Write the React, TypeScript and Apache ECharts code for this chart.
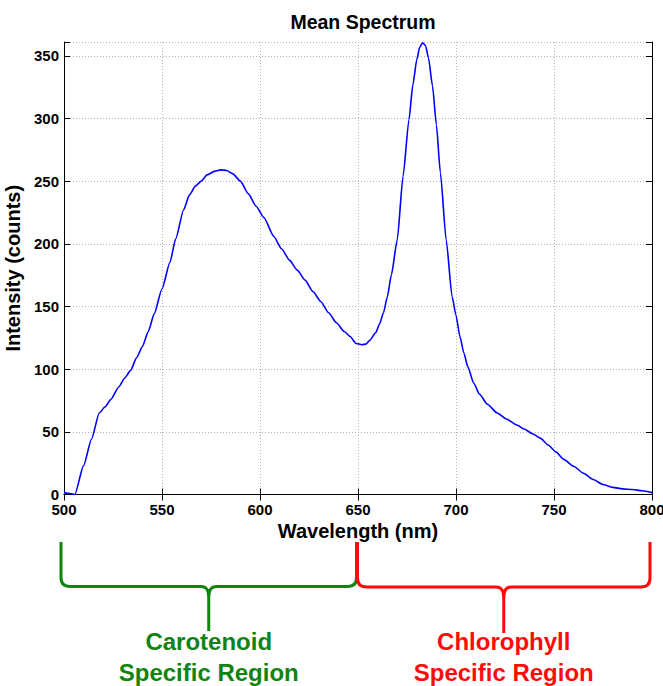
import React, { useEffect, useRef } from "react";
import * as echarts from "echarts";

// ---- data ----
const wavelengths = [
  500, 502, 504, 505.5, 510, 514, 518, 521, 524, 528, 531, 534, 537, 540, 543, 546, 550, 554, 557, 561,
  564, 567, 570, 573, 577, 580, 583, 586, 590, 594, 598, 602, 607, 611, 615, 619, 623, 627, 631, 635,
  639, 643, 646, 649, 652, 654, 656, 659, 661, 663, 665, 667, 670, 673, 676, 678, 680, 681.5, 683, 684.5,
  686, 688, 690, 692, 695, 698, 700, 702, 704, 706, 709, 712, 716, 721, 726, 731, 735, 739, 743, 747,
  751, 755, 760, 765, 770, 775, 780, 785, 790, 795, 800,
];
const intensities = [
  1.5, 1, 0.5, 0, 23, 44, 65, 70, 76, 86, 93, 99, 109, 118, 130, 144, 164, 185, 204, 227,
  239, 246, 250, 255, 258, 259, 258.5, 256, 250, 240, 230, 221, 206, 196, 187, 179, 171, 162, 154, 145,
  137, 130, 126, 120.5, 119.5, 120, 123, 129, 136, 145, 158, 175, 203, 254, 299, 327, 347, 357, 360.4, 358,
  348, 326, 295, 257, 203, 158, 143, 126, 113, 102, 89, 80, 72, 65, 60, 55.5, 52, 48.5, 45, 39.5,
  34, 28, 22.5, 17, 12, 8, 5.7, 4.5, 4, 3, 1.5,
];

const xRange = [500, 800];
const xStep = 50;
const yRange = [0, 361];
const yStep = 50;

const chartTitle = "Mean Spectrum";
const xName = "Wavelength (nm)";
const yName = "Intensity (counts)";

const regionBounds = [
  [500, 650],
  [650, 800],
];
const regionLabels = [
  ["Carotenoid", "Specific Region"],
  ["Chlorophyll", "Specific Region"],
];
const regionColors = ["#0f850f", "#ff0a0a"];

const FONT = '"Liberation Sans", Arial, Helvetica, sans-serif';

function bracePath(xa: number, xb: number, yt: number, yh: number, yp: number, r: number) {
  const xc = (xa + xb) / 2;
  return (
    `M${xa} ${yt} L${xa} ${yh - r} Q${xa} ${yh} ${xa + r} ${yh} ` +
    `L${xc - 8} ${yh} C${xc - 1} ${yh} ${xc} ${yh + 5} ${xc} ${yh + 13} L${xc} ${yp} ` +
    `M${xc} ${yh + 13} C${xc} ${yh + 5} ${xc + 1} ${yh} ${xc + 8} ${yh} ` +
    `L${xb - r} ${yh} Q${xb} ${yh} ${xb} ${yh - r} L${xb} ${yt}`
  );
}

export default function App() {
  const ref = useRef<HTMLDivElement>(null);

  useEffect(() => {
    if (!ref.current) return;
    const chart = echarts.init(ref.current, undefined, { renderer: "svg" });

    const axisBase = {
      type: "value" as const,
      axisLine: { show: true, lineStyle: { color: "#000", width: 1 } },
      axisTick: { show: true, inside: true, length: 6, lineStyle: { color: "#000", width: 1 } },
    };

    chart.setOption({
      animation: false,
      backgroundColor: "#fff",
      title: {
        text: chartTitle,
        left: 358,
        textAlign: "center",
        top: 7,
        textStyle: { fontFamily: FONT, fontSize: 19.5, fontWeight: "bold", color: "#000" },
      },
      grid: {
        left: 64,
        right: 11,
        top: 42,
        bottom: 191.5,
        containLabel: false,
        outerBoundsMode: "none",
      },
      xAxis: [
        {
          ...axisBase,
          position: "bottom",
          min: xRange[0],
          max: xRange[1],
          interval: xStep,
          name: xName,
          nameLocation: "middle",
          nameGap: 19,
          nameTextStyle: { fontFamily: FONT, fontSize: 20, fontWeight: "bold", color: "#000" },
          axisLabel: { margin: 7, fontFamily: FONT, fontSize: 15, fontWeight: "bold", color: "#000" },
          splitLine: { show: true, lineStyle: { color: "#b4b4b4", type: [1, 2], width: 1 } },
        },
        {
          ...axisBase,
          position: "top",
          min: xRange[0],
          max: xRange[1],
          interval: xStep,
          axisLabel: { show: false },
          splitLine: { show: false },
        },
      ],
      yAxis: [
        {
          ...axisBase,
          position: "left",
          min: yRange[0],
          max: yRange[1],
          interval: yStep,
          name: yName,
          nameLocation: "middle",
          nameGap: 28,
          nameTextStyle: { fontFamily: FONT, fontSize: 20, fontWeight: "bold", color: "#000" },
          axisLabel: {
            margin: 5,
            fontFamily: FONT,
            fontSize: 15,
            fontWeight: "bold",
            color: "#000",
            formatter: (v: number) => (v % yStep === 0 ? String(v) : ""),
          },
          splitLine: { show: true, lineStyle: { color: "#b4b4b4", type: [1, 2], width: 1 } },
        },
        {
          ...axisBase,
          position: "right",
          min: yRange[0],
          max: yRange[1],
          interval: yStep,
          axisLabel: { show: false },
          splitLine: { show: false },
        },
      ],
      series: [
        {
          type: "line",
          xAxisIndex: 0,
          yAxisIndex: 0,
          data: wavelengths.map((w, i) => [w, intensities[i]]),
          showSymbol: false,
          symbol: "none",
          smooth: 0.2,
          smoothMonotone: "x",
          lineStyle: { color: "#0000ff", width: 1.6 },
          clip: true,
        },
      ],
    });

    // brackets and region labels positioned from the x scale
    const px = (v: number) => chart.convertToPixel({ xAxisIndex: 0 }, v) as number;
    const insets = [
      [-3, -1.5],
      [-0.5, -2],
    ];
    const elements: any[] = [];
    regionBounds.forEach((b, i) => {
      const xa = px(b[0]) + insets[i][0];
      const xb = px(b[1]) + insets[i][1];
      const xc = (xa + xb) / 2;
      const yh = i === 0 ? 586.5 : 587;
      const yp = i === 0 ? 631 : 633;
      const shapeName = "brace" + i;
      echarts.graphic.registerShape(
        shapeName,
        (echarts.graphic as any).extendPath(bracePath(xa, xb, 542, yh, yp, 9), {})
      );
      elements.push({
        type: shapeName,
        x: 0,
        y: 0,
        style: { fill: "none", stroke: regionColors[i], lineWidth: 3 },
      });
      regionLabels[i].forEach((t, j) => {
        const baseline = j === 0 ? 650 : 681;
        elements.push({
          type: "text",
          x: xc,
          y: baseline - 0.3465 * 24,
          style: {
            text: t,
            font: `bold 24px ${FONT}`,
            fill: regionColors[i],
            align: "center",
            verticalAlign: "middle",
            textAlign: "center",
            textVerticalAlign: "middle",
          },
        });
      });
    });
    chart.setOption({ graphic: { elements } });

    return () => chart.dispose();
  }, []);

  return (
    <div
      ref={ref}
      style={{ position: "fixed", left: 0, top: 0, width: 663, height: 686, background: "#fff" }}
    />
  );
}
